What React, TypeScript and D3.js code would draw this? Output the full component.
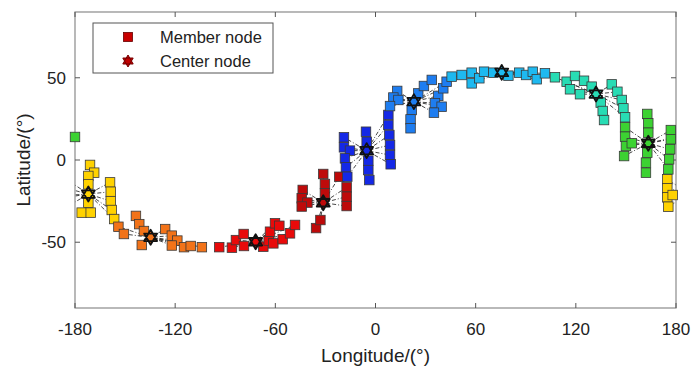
import React from "react";
import * as d3 from "d3";

// ---------- data ----------
const xTicks = [-180, -120, -60, 0, 60, 120, 180];
const yTicks = [-50, 0, 50];

const clusterColors = [
  "#FFD200", // yellow
  "#F27319", // orange
  "#E80A0A", // red
  "#BE0A0A", // dark red
  "#1428E6", // blue
  "#1E7DF0", // light blue
  "#1EB9F0", // cyan
  "#28DCB4", // teal
  "#3CD232", // green
];

const centerLon = [-172, -134.7, -71.8, -31.3, -5.3, 23, 75.6, 132.1, 163.4];
const centerLat = [-20.7, -47, -49.7, -26, 5.7, 35.5, 53.3, 40.1, 10.2];

const yellowMembers = [
  [-171, -3], [-168.5, -7.7], [-172, -9.7], [-172, -14.8], [-172, -26], [-176, -32], [-170.6, -32],
  [-159, -13.6], [-158.6, -19.3], [-158.6, -25], [-158, -30.4], [-156.5, -35.9],
  [174.8, -11.7], [174.8, -17.2], [174.8, -22.7], [178, -21.3], [175.4, -28.4],
];
const orangeMembers = [
  [-154, -40.6], [-150.7, -45], [-143.5, -34], [-141.5, -39], [-138.7, -43.2], [-140, -51.7],
  [-126, -42], [-122, -46], [-118.7, -49], [-122, -52], [-114.7, -53], [-110.7, -52.3], [-104, -53],
];
const redMembers = [
  [-93.6, -53], [-86, -53.3], [-83.6, -48.7], [-79, -45], [-78.8, -52.3], [-67.2, -52.7], [-64, -49],
  [-63.2, -43.6], [-60.2, -38.5], [-57.6, -40], [-61.2, -50.7], [-55.6, -48.2], [-51.2, -44.6], [-48.2, -39.5],
];
const darkRedMembers = [
  [-43.6, -18.2], [-44.2, -23.3], [-40.8, -25.9], [-44.2, -28.3], [-31.3, -8.5], [-30.3, -14.6],
  [-30.3, -20.3], [-21.7, -10.2], [-17.3, -16.6], [-17.3, -22.3], [-17.3, -28], [-35.6, -41.4], [-33, -36.5],
];
const blueMembers = [
  [-18.9, 13.8], [-18.9, 7.7], [-15.3, 5.7], [-18.3, 1], [-17.7, -4.4], [-16.9, -10.2],
  [-5.7, 17.2], [-5.3, 11.1], [-4.3, -0.4], [-4.3, -6.1], [-3.7, -12.2],
  [7.7, 27.4], [7.7, 21.3], [8.3, 15.2], [8.7, 9.1], [8.7, 3], [9.1, -2.6],
];
const lightBlueMembers = [
  [13, 42], [10.7, 38], [13.7, 36.5], [8.7, 32.8], [25.6, 40.5], [29, 45], [33.7, 48.7],
  [21.7, 30.4], [21, 24.7], [21, 19.3], [37.6, 39], [40.6, 43.6], [35.6, 34.5], [39.6, 32.4],
  [35, 28.8], [42.6, 47.6],
];
const cyanMembers = [
  [45.6, 50.7], [51.6, 51.7], [57.6, 53.1], [57.6, 46.6], [62.2, 49.7], [65, 53.7], [70.6, 53.1],
  [79.6, 51.3], [86.1, 53.1], [90.2, 51.7], [94.2, 53.7], [96.6, 49.1], [101.5, 52.7],
];
const tealMembers = [
  [107.5, 50.3], [114.5, 47.6], [119.5, 51.1], [116.5, 43], [124.9, 48.2], [122.5, 40], [129.5, 44.6],
  [134.9, 34.9], [136.1, 29.8], [136.9, 24.3], [141.5, 46], [144.9, 41.5], [147.5, 36.5],
  [148.5, 31.4], [149.5, 26],
];
const greenMembers = [
  [149.5, 19.9], [149.5, 14.2], [150, 8.5], [153.5, 10.2], [148.9, 2.4], [162.8, 28], [163.4, 22.3],
  [163.4, 16.6], [162.8, 4.4], [162, -1.6], [162, -7.7], [176.9, 18.2], [176.9, 12.6],
  [176.5, 6.5], [175.9, 0.4], [175.4, -5.7], [-180, 14],
];

const clusterMembers = [
  yellowMembers, orangeMembers, redMembers, darkRedMembers, blueMembers,
  lightBlueMembers, cyanMembers, tealMembers, greenMembers,
];

// ---------- layout ----------
const W = 700;
const H = 378;
const left = 75, right = 676, top = 12, bottom = 308;
const FONT = "'Liberation Sans', Arial, Helvetica, sans-serif";

const x = d3.scaleLinear().domain([-180, 180]).range([left, right]);
const y = d3.scaleLinear().domain([-90, 90]).range([bottom, top]);

function hexagram(cx: number, cy: number, r: number) {
  const pts = (rot: number) =>
    d3.range(3).map((i) => {
      const a = rot + (i * 2 * Math.PI) / 3;
      return [cx + r * Math.sin(a), cy - r * Math.cos(a)];
    });
  const t1 = pts(0);
  const t2 = pts(Math.PI);
  const line = d3.line();
  return line(t1 as any) + "Z" + line(t2 as any) + "Z";
}

export default function App() {
  const sq = 9.5;
  const links: { x1: number; y1: number; x2: number; y2: number; k: string }[] = [];
  clusterMembers.forEach((mem, ci) => {
    const clon = centerLon[ci];
    const clat = centerLat[ci];
    mem.forEach(([lon, lat], mi) => {
      const d = lon - clon;
      if (d > 180) {
        links.push({ x1: x(clon), y1: y(clat), x2: x(lon - 360), y2: y(lat), k: `${ci}-${mi}a` });
        links.push({ x1: x(lon), y1: y(lat), x2: x(clon + 360), y2: y(clat), k: `${ci}-${mi}b` });
      } else if (d < -180) {
        links.push({ x1: x(clon), y1: y(clat), x2: x(lon + 360), y2: y(lat), k: `${ci}-${mi}a` });
        links.push({ x1: x(lon), y1: y(lat), x2: x(clon - 360), y2: y(clat), k: `${ci}-${mi}b` });
      } else {
        links.push({ x1: x(clon), y1: y(clat), x2: x(lon), y2: y(lat), k: `${ci}-${mi}` });
      }
    });
  });

  return (
    <svg width={W} height={H} style={{ position: "absolute", left: 0, top: 0, background: "#fff" }} fontFamily={FONT}>
      <defs>
        <clipPath id="plotclip">
          <rect x={left} y={top} width={right - left} height={bottom - top} />
        </clipPath>
      </defs>
      <rect x={0} y={0} width={W} height={H} fill="#fff" />

      {/* links */}
      <g clipPath="url(#plotclip)">
        {links.map((l) => (
          <line key={l.k} x1={l.x1} y1={l.y1} x2={l.x2} y2={l.y2} stroke="#333" strokeWidth={0.9} strokeDasharray="4,2,1,2" />
        ))}
      </g>

      {/* axes box */}
      <rect x={left} y={top} width={right - left} height={bottom - top} fill="none" stroke="#8a8a8a" strokeWidth={1.2} />
      {xTicks.map((t) => (
        <g key={"xt" + t}>
          <line x1={x(t)} x2={x(t)} y1={bottom} y2={bottom - 5} stroke="#555" strokeWidth={1} />
          <line x1={x(t)} x2={x(t)} y1={top} y2={top + 5} stroke="#555" strokeWidth={1} />
          <text x={x(t)} y={335} textAnchor="middle" fontSize={17} fill="#222">{t}</text>
        </g>
      ))}
      {yTicks.map((t) => (
        <g key={"yt" + t}>
          <line x1={left} x2={left + 5} y1={y(t)} y2={y(t)} stroke="#555" strokeWidth={1} />
          <line x1={right} x2={right - 5} y1={y(t)} y2={y(t)} stroke="#555" strokeWidth={1} />
          <text x={66} y={y(t) + 6} textAnchor="end" fontSize={17} fill="#222">{t}</text>
        </g>
      ))}
      <text x={(left + right) / 2} y={362} textAnchor="middle" fontSize={19} fill="#222">Longitude/(°)</text>
      <text transform={`translate(30,${(top + bottom) / 2}) rotate(-90)`} textAnchor="middle" fontSize={19} fill="#222">Latitude/(°)</text>

      {/* member nodes */}
      {clusterMembers.map((mem, ci) =>
        mem.map(([lon, lat], mi) => (
          <rect key={`m${ci}-${mi}`} x={x(lon) - sq / 2} y={y(lat) - sq / 2} width={sq} height={sq}
            fill={clusterColors[ci]} stroke="#3a3a3a" strokeWidth={0.8} />
        ))
      )}

      {/* center nodes */}
      {centerLon.map((lon, ci) => (
        <path key={`c${ci}`} d={hexagram(x(lon), y(centerLat[ci]), 7.5)} fill={clusterColors[ci]} stroke="#111" strokeWidth={1.8} strokeLinejoin="round" />
      ))}

      {/* legend */}
      <rect x={93} y={23} width={180} height={50} fill="#fff" stroke="#555" strokeWidth={1} />
      <rect x={128 - 4.5} y={37 - 4.5} width={9} height={9} fill="#C80000" stroke="#600" strokeWidth={0.8} />
      <path d={hexagram(128, 61, 6)} fill="#C00000" stroke="#700" strokeWidth={1} />
      <text x={160} y={43} fontSize={16.5} fill="#222">Member node</text>
      <text x={160} y={67} fontSize={16.5} fill="#222">Center node</text>
    </svg>
  );
}
